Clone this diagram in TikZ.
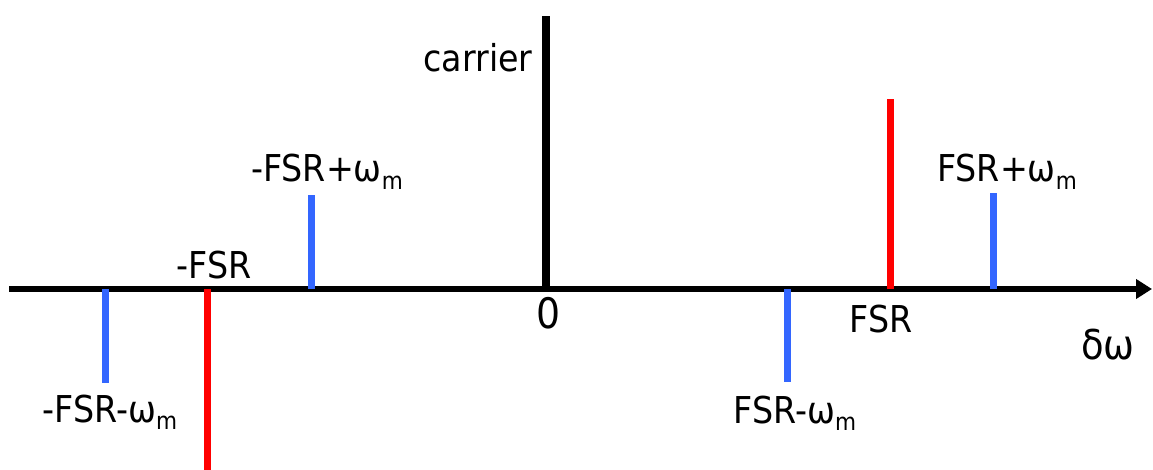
\documentclass[tikz,border=0pt]{standalone}
\usepackage{fontspec}
\setmainfont{DejaVu Sans Condensed}
\usetikzlibrary{arrows.meta}
\definecolor{specblue}{HTML}{3366FF}
\definecolor{specred}{HTML}{FF0000}
\tikzset{
  axisline/.style={line width=6pt,-{Triangle[length=16pt,width=19pt]}},
  carrierline/.style={line width=8pt,black},
  sideband/.style={line width=7pt,specblue},
  fsrline/.style={line width=7pt,specred},
  lbl/.style={anchor=base,inner sep=0pt,font=\fontsize{37}{40}\selectfont},
}
\newcommand{\wm}{ω\raisebox{-0.2em}{\fontsize{24}{26}\selectfont m}}
\begin{document}
\begin{tikzpicture}[x=1pt,y=-1pt]
\useasboundingbox (0,0) rectangle (1153,470);
% axis
\coordinate (a0) at (9,289);
\coordinate (a1) at (1152,289);
\draw[axisline] (a0) -- (a1);
% spectral lines
\coordinate (c0) at (546,289); \coordinate (c1) at (546,16);
\draw[carrierline] (c0) -- (c1);
\coordinate (r1a) at (890,289); \coordinate (r1b) at (890,99);
\draw[fsrline] (r1a) -- (r1b);
\coordinate (r2a) at (207,289); \coordinate (r2b) at (207,470);
\draw[fsrline] (r2a) -- (r2b);
\coordinate (b1a) at (311,289); \coordinate (b1b) at (311,195);
\draw[sideband] (b1a) -- (b1b);
\coordinate (b2a) at (993,289); \coordinate (b2b) at (993,193);
\draw[sideband] (b2a) -- (b2b);
\coordinate (b3a) at (105,289); \coordinate (b3b) at (105,383);
\draw[sideband] (b3a) -- (b3b);
\coordinate (b4a) at (787,289); \coordinate (b4b) at (787,382);
\draw[sideband] (b4a) -- (b4b);
% labels
\node[lbl] (lcar) at (478,72) {carrier};
\node[lbl] (lzero) at (549,328) {\fontsize{42}{44}\selectfont 0};
\node[lbl] (lfsr) at (881,332) {FSR};
\node[lbl] (lmfsr) at (214,278) {-FSR};
\node[lbl] (ldw) at (1108,359) {\fontsize{41}{44}\selectfont δω};
\node[lbl] (lmfp) at (327,182) {-FSR+\wm};
\node[lbl] (lfp) at (1007,182) {FSR+\wm};
\node[lbl] (lfm) at (795,423) {FSR-\wm};
\node[lbl] (lmfm) at (110,422) {-FSR-\wm};
\end{tikzpicture}
\end{document}
